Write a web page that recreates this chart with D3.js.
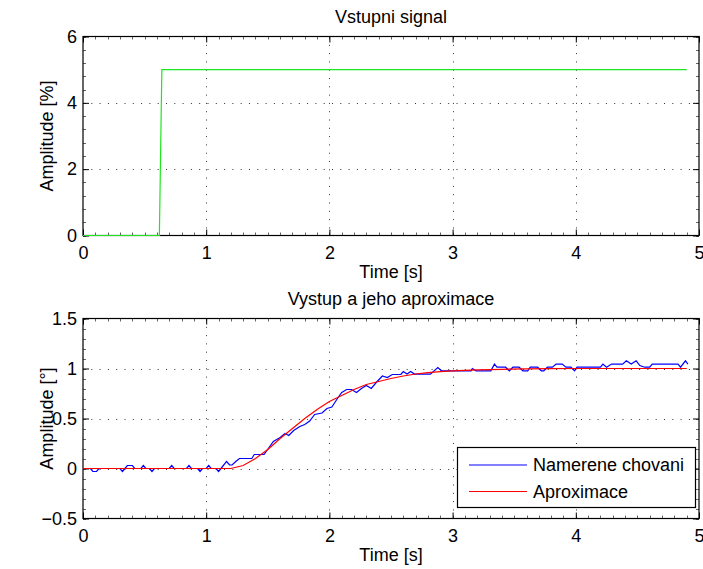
<!DOCTYPE html>
<html>
<head>
<meta charset="utf-8">
<script src="https://cdn.jsdelivr.net/npm/d3@7"></script>
<style>
  body { margin: 0; background: #fff; }
  svg { font-family: "Liberation Sans", Arial, Helvetica, sans-serif; }
  .tick text { font-size: 18px; fill: #000; }
</style>
</head>
<body>
<div id="chart"></div>
<script>
// input step (Vstupni signal)
var stepT = [0, 0.62, 0.64, 4.9];
var stepV = [0, 0, 5, 5];

// measured response (Namerene chovani)
var measT = [0, 0.06, 0.08, 0.11, 0.13, 0.30, 0.32, 0.34, 0.36, 0.40, 0.42, 0.47, 0.49, 0.51, 0.54, 0.56, 0.58,
  0.70, 0.72, 0.74, 0.84, 0.86, 0.88, 0.93, 0.95, 0.97, 1.00, 1.02, 1.04, 1.08, 1.10, 1.12,
  1.165, 1.19, 1.21, 1.24, 1.27, 1.37, 1.39, 1.47, 1.51, 1.545, 1.60, 1.64, 1.67, 1.71, 1.76, 1.80, 1.84,
  1.88, 1.94, 1.98, 2.02, 2.06, 2.10, 2.14, 2.18, 2.22, 2.26, 2.30, 2.34, 2.38, 2.43, 2.47, 2.51, 2.58,
  2.60, 2.63, 2.66, 2.69, 2.82, 2.88, 2.91, 3.15, 3.16, 3.19, 3.31, 3.34, 3.36, 3.43, 3.46, 3.49, 3.54,
  3.57, 3.61, 3.63, 3.69, 3.72, 3.74, 3.77, 3.81, 3.84, 3.89, 3.92, 3.96, 3.99, 4.01, 4.20, 4.22, 4.25,
  4.29, 4.38, 4.41, 4.45, 4.49, 4.52, 4.56, 4.60, 4.62, 4.83, 4.85, 4.89, 4.91];
var measV = [0, 0, -0.03, -0.03, 0, 0, -0.03, 0, 0.03, 0.03, 0, 0, 0.03, 0, 0, -0.03, 0,
  0, 0.03, 0, 0, 0.03, 0, 0, -0.03, 0, 0, 0.03, 0, 0, -0.03, 0,
  0.07, 0.035, 0.035, 0.07, 0.10, 0.10, 0.14, 0.14, 0.21, 0.27, 0.31, 0.35, 0.33, 0.38, 0.42, 0.44, 0.475,
  0.54, 0.555, 0.60, 0.615, 0.69, 0.76, 0.79, 0.79, 0.76, 0.80, 0.83, 0.80, 0.86, 0.925, 0.91, 0.94, 0.94,
  0.97, 0.944, 0.97, 0.944, 0.944, 1.01, 0.977, 0.977, 1.0, 0.977, 0.977, 1.044, 1.013, 1.013, 0.977, 1.013, 1.013,
  0.977, 0.977, 1.013, 1.013, 0.977, 0.977, 1.013, 1.013, 1.044, 1.044, 1.013, 1.013, 0.977, 1.013, 1.013, 1.044, 1.013,
  1.044, 1.044, 1.077, 1.044, 1.077, 1.03, 1.013, 1.013, 1.044, 1.044, 1.013, 1.077, 1.044];

// approximation (Aproximace)
var approxT = [0, 1.2, 1.3, 1.4, 1.5, 1.6, 1.7, 1.8, 1.9, 2.0, 2.1, 2.2, 2.3, 2.4, 2.5, 2.6, 2.7, 2.8, 2.9,
  3.0, 3.2, 3.4, 3.6, 3.8, 4.0, 4.9];
var approxV = [0, 0, 0.03, 0.10, 0.19, 0.30, 0.40, 0.50, 0.59, 0.67, 0.73, 0.79, 0.84, 0.87, 0.90, 0.925, 0.945, 0.958, 0.968,
  0.976, 0.986, 0.992, 0.996, 0.998, 1.0, 1.0];

var xTicks = [0, 1, 2, 3, 4, 5];
var topYTicks = [0, 2, 4, 6];
var botYTicks = [-0.5, 0, 0.5, 1, 1.5];
var legendNames = ["Namerene chovani", "Aproximace"];

var W = 703, H = 569;
var svg = d3.select("#chart").append("svg").attr("width", W).attr("height", H);

var x = d3.scaleLinear().domain([0, 5]).range([83, 699]);
var yTop = d3.scaleLinear().domain([0, 6]).range([235.5, 36.5]);
var yBot = d3.scaleLinear().domain([-0.5, 1.5]).range([518.5, 318.5]);

function fmt(d) { return String(d).replace("-", "\u2212"); }

function panel(y, yTicks, yMinorStep, title, ylabel) {
  var g = svg.append("g");
  var x0 = x.range()[0], x1 = x.range()[1];
  var yb = y.range()[0], yt = y.range()[1];

  // grid
  g.selectAll(".gx").data(xTicks.slice(1, -1)).enter().append("line")
    .attr("x1", d => Math.round(x(d)) + 0.5).attr("x2", d => Math.round(x(d)) + 0.5)
    .attr("y1", yt).attr("y2", yb)
    .attr("stroke", "#333").attr("stroke-dasharray", "1,7.3");
  g.selectAll(".gy").data(yTicks.slice(1, -1)).enter().append("line")
    .attr("x1", x0).attr("x2", x1)
    .attr("y1", d => Math.round(y(d)) + 0.5).attr("y2", d => Math.round(y(d)) + 0.5)
    .attr("stroke", "#333").attr("stroke-dasharray", "1,7.3");

  // minor ticks
  var xm = d3.range(0, 5.0001, 0.1);
  var ym = d3.range(y.domain()[0], y.domain()[1] + 1e-6, yMinorStep);
  [yb, yt].forEach(function (yy, i) {
    g.selectAll(null).data(xm).enter().append("line")
      .attr("x1", d => Math.round(x(d)) + 0.5).attr("x2", d => Math.round(x(d)) + 0.5)
      .attr("y1", yy).attr("y2", i === 0 ? yy - 3 : yy + 3)
      .attr("stroke", "#666");
  });
  [x0, x1].forEach(function (xx, i) {
    g.selectAll(null).data(ym).enter().append("line")
      .attr("y1", d => Math.round(y(d)) + 0.5).attr("y2", d => Math.round(y(d)) + 0.5)
      .attr("x1", xx).attr("x2", i === 0 ? xx + 3 : xx - 3)
      .attr("stroke", "#666");
  });

  // axes
  var ax = g.append("g").attr("transform", "translate(0," + yb + ")")
    .call(d3.axisBottom(x).tickValues(xTicks).tickFormat(fmt).tickSizeInner(-6).tickSizeOuter(0).tickPadding(11));
  var axT = g.append("g").attr("transform", "translate(0," + yt + ")")
    .call(d3.axisTop(x).tickValues(xTicks).tickFormat("").tickSizeInner(-6).tickSizeOuter(0));
  var ay = g.append("g").attr("transform", "translate(" + x0 + ",0)")
    .call(d3.axisLeft(y).tickValues(yTicks).tickFormat(fmt).tickSizeInner(-6).tickSizeOuter(0).tickPadding(6));
  var ayR = g.append("g").attr("transform", "translate(" + x1 + ",0)")
    .call(d3.axisRight(y).tickValues(yTicks).tickFormat("").tickSizeInner(-6).tickSizeOuter(0));
  [ax, axT, ay, ayR].forEach(function (a) {
    a.select(".domain").remove();
    a.selectAll("line").attr("stroke", "#000");
    a.attr("font-family", null).attr("font-size", null);
  });

  // box
  g.append("rect").attr("x", x0).attr("y", yt).attr("width", x1 - x0).attr("height", yb - yt)
    .attr("fill", "none").attr("stroke", "#000").attr("stroke-width", 1.2);

  g.append("text").attr("x", (x0 + x1) / 2).attr("y", yt - 14).attr("text-anchor", "middle")
    .attr("font-size", 18).text(title);
  g.append("text").attr("x", (x0 + x1) / 2).attr("y", yb + 42).attr("text-anchor", "middle")
    .attr("font-size", 18).text("Time [s]");
  g.append("text").attr("transform", "translate(52.5," + (yb + yt) / 2 + ") rotate(-90)")
    .attr("text-anchor", "middle").attr("font-size", 18).text(ylabel);
  return g;
}

var gTop = panel(yTop, topYTicks, 0.4, "Vstupni signal", "Amplitude [%]");
var gBot = panel(yBot, botYTicks, 0.1, "Vystup a jeho aproximace", "Amplitude [\u00b0]");

var lineTop = d3.line().x(d => x(d[0])).y(d => yTop(d[1]));
var lineBot = d3.line().x(d => x(d[0])).y(d => yBot(d[1]));

gTop.append("path").datum(d3.zip(stepT, stepV)).attr("d", lineTop)
  .attr("fill", "none").attr("stroke", "#1ee61e").attr("stroke-width", 1.2);

gBot.append("path").datum(d3.zip(measT, measV)).attr("d", lineBot)
  .attr("fill", "none").attr("stroke", "#0000ff").attr("stroke-width", 1.2);
gBot.append("path").datum(d3.zip(approxT, approxV)).attr("d", lineBot)
  .attr("fill", "none").attr("stroke", "#ff0000").attr("stroke-width", 1.2);

// legend
var leg = gBot.append("g");
leg.append("rect").attr("x", 457.5).attr("y", 447.5).attr("width", 238).attr("height", 60)
  .attr("fill", "#fff").attr("stroke", "#000").attr("stroke-width", 1.2);
var legColors = ["#0000ff", "#ff0000"];
legendNames.forEach(function (name, i) {
  var yy = 465 + i * 26.5;
  leg.append("line").attr("x1", 469).attr("x2", 527).attr("y1", yy).attr("y2", yy)
    .attr("stroke", legColors[i]).attr("stroke-width", 1);
  leg.append("text").attr("x", 533).attr("y", yy + 6).attr("font-size", 18).text(name);
});
</script>
</body>
</html>
